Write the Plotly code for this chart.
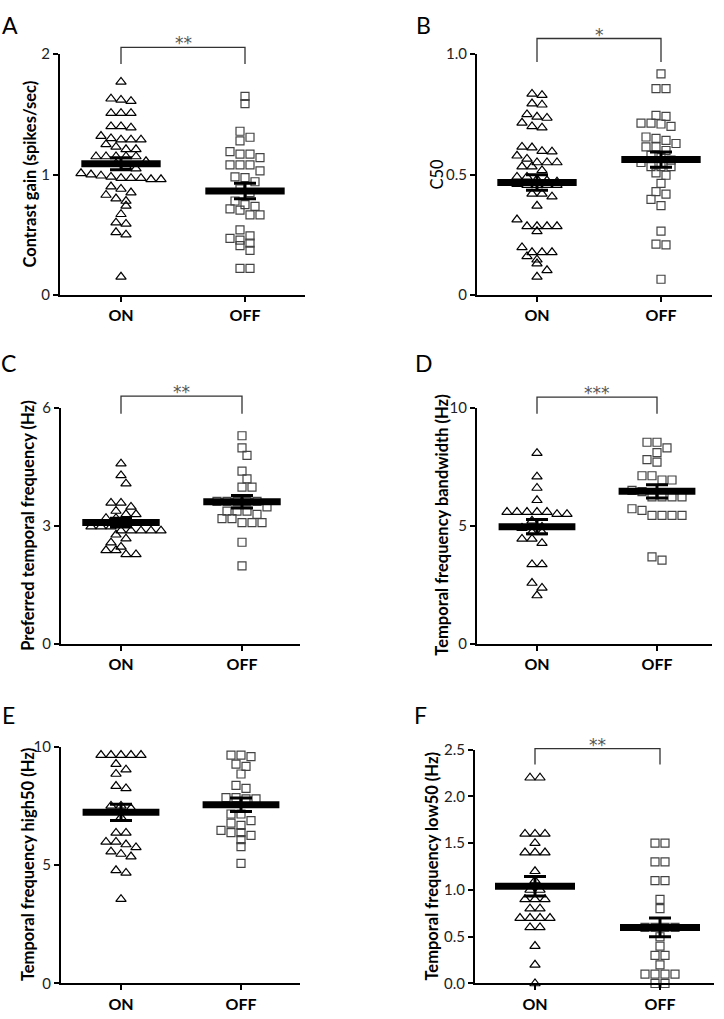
import numpy as np
import plotly.graph_objects as go

W, H = 724, 1019
FONT = "Lato"

groups = ["ON", "OFF"]

# ---------------- data ----------------
a_on = [1.77, 1.62, 1.61, 1.63, 1.51, 1.51, 1.51, 1.40, 1.40, 1.39, 1.32, 1.30, 1.29, 1.29, 1.29,
        1.25, 1.23, 1.21, 1.21, 1.15, 1.15, 1.15, 1.15, 1.15, 1.11, 1.09, 1.07, 1.05,
        1.00, 0.98, 0.97, 0.96, 0.96, 0.97, 0.97, 0.99, 1.01, 0.90, 0.88, 0.83, 0.85, 0.80,
        0.78, 0.74, 0.67, 0.60, 0.59, 0.52, 0.50, 0.15]
a_off = [1.65, 1.59, 1.36, 1.31, 1.28, 1.19, 1.17, 1.17, 1.14, 1.08, 1.08, 1.08, 1.03, 0.98,
         0.975, 0.94, 0.88, 0.85, 0.78, 0.75, 0.735, 0.715, 0.705, 0.665, 0.665, 0.54, 0.49,
         0.47, 0.455, 0.43, 0.41, 0.37, 0.22, 0.22]
a_mean = [1.09, 0.863]
a_sem = [0.05, 0.064]

b_on = [0.835, 0.83, 0.79, 0.795, 0.735, 0.74, 0.75, 0.715, 0.70, 0.695, 0.612, 0.615, 0.595,
        0.597, 0.578, 0.565, 0.55, 0.55, 0.55, 0.533, 0.533, 0.517, 0.49, 0.49, 0.48, 0.475,
        0.47, 0.46, 0.456, 0.456, 0.456, 0.456, 0.42, 0.42, 0.408, 0.37, 0.313, 0.285, 0.285,
        0.285, 0.285, 0.264, 0.197, 0.177, 0.177, 0.177, 0.16, 0.146, 0.13, 0.102, 0.075]
b_off = [0.918, 0.857, 0.857, 0.742, 0.746, 0.714, 0.71, 0.714, 0.70, 0.65, 0.642, 0.656,
         0.629, 0.615, 0.615, 0.60, 0.58, 0.57, 0.56, 0.55, 0.533, 0.533, 0.533, 0.507, 0.497,
         0.463, 0.429, 0.419, 0.397, 0.371, 0.265, 0.211, 0.208, 0.065]
b_mean = [0.467, 0.562]
b_sem = [0.032, 0.032]

c_on = [4.58, 4.28, 4.07, 3.58, 3.58, 3.48, 3.375, 3.29, 3.29, 3.19, 3.19, 3.10, 2.975, 2.975,
        2.975, 2.875, 2.875, 2.875, 2.875, 2.875, 2.77, 2.67, 2.57, 2.46, 2.375, 2.375, 2.27, 2.27]
c_off = [5.29, 4.98, 4.79, 4.39, 4.19, 3.98, 3.98, 3.62, 3.62, 3.62, 3.62, 3.62, 3.48, 3.37,
         3.37, 3.37, 3.29, 3.18, 3.18, 3.08, 3.08, 3.08, 2.58, 1.98]
c_mean = [3.08, 3.61]
c_sem = [0.11, 0.16]

d_on = [8.08, 7.08, 6.6, 6.08, 5.58, 5.58, 5.58, 5.58, 5.58, 5.49, 5.49, 5.21, 4.95, 4.9, 4.72,
        4.72, 4.44, 4.44, 4.26, 3.36, 3.36, 2.57, 2.36, 2.04]
d_off = [8.54, 8.54, 8.3, 8.1, 7.8, 7.7, 7.12, 7.12, 6.94, 6.94, 6.5, 6.45, 6.22, 6.22, 6.22,
         6.22, 5.72, 5.65, 5.44, 5.44, 5.44, 5.44, 3.68, 3.54]
d_mean = [4.96, 6.46]
d_sem = [0.30, 0.28]

e_on = [9.65, 9.65, 9.65, 9.65, 9.65, 9.27, 9.03, 8.85, 8.34, 8.24, 7.5, 7.5, 7.4, 7.02, 6.36,
        6.36, 5.98, 5.98, 5.87, 5.75, 5.57, 5.47, 5.36, 4.78, 4.67, 3.56]
e_off = [9.65, 9.65, 9.58, 9.27, 9.17, 8.85, 8.37, 8.24, 7.85, 7.85, 7.8, 7.8, 7.16, 7.16, 6.88,
         6.77, 6.68, 6.47, 6.37, 6.37, 6.26, 6.08, 5.78, 5.07]
e_mean = [7.23, 7.55]
e_sem = [0.34, 0.28]

f_on = [2.2, 2.2, 1.6, 1.6, 1.6, 1.5, 1.4, 1.4, 1.4, 1.2, 1.1, 1.0, 1.0, 0.9, 0.9, 0.9, 0.8,
        0.8, 0.7, 0.7, 0.7, 0.7, 0.6, 0.6, 0.4, 0.2, 0.0]
f_off = [1.5, 1.5, 1.3, 1.3, 1.1, 1.1, 0.9, 0.8, 0.6, 0.6, 0.6, 0.6, 0.5, 0.4, 0.3, 0.3, 0.2,
         0.1, 0.1, 0.1, 0.1, 0.0, 0.0]
f_mean = [1.04, 0.60]
f_sem = [0.105, 0.10]

titles = ["<b>Contrast gain (spikes/sec)</b>", "C50", "<b>Preferred temporal frequency (Hz)</b>",
          "<b>Temporal frequency bandwidth (Hz)</b>", "<b>Temporal frequency high50 (Hz)</b>",
          "<b>Temporal frequency low50 (Hz)</b>"]
letters = ["A", "B", "C", "D", "E", "F"]
significance = ["**", "*", "**", "***", "", "**"]
y_max = [2, 1.0, 6, 10, 10, 2.5]
y_tickvals = [[0, 1, 2], [0, 0.5, 1.0], [0, 3, 6], [0, 5, 10], [0, 5, 10],
              [0, 0.5, 1.0, 1.5, 2.0, 2.5]]
y_ticktext = [["0", "1", "2"], ["0", "0.5", "1.0"], ["0", "3", "6"], ["0", "5", "10"],
              ["0", "5", "10"], ["0.0", "0.5", "1.0", "1.5", "2.0", "2.5"]]

# ---------------- layout geometry (pixels) ----------------
geo = [
    dict(left=60, right=305, top=45, bot=290, on=121, off=245, tx=30, lx=10, ly=15, bt=7, bl=10),
    dict(left=477, right=712, top=45, bot=290, on=537, off=661, tx=437, lx=423, ly=15, bt=16, bl=8),
    dict(left=61, right=300, top=405, bot=645, on=121, off=242, tx=28, lx=8, ly=359, bt=12, bl=6),
    dict(left=477, right=712, top=405, bot=645, on=537, off=657, tx=442, lx=424, ly=359, bt=11, bl=6),
    dict(left=61, right=300, top=750, bot=991, on=121, off=241, tx=28, lx=8, ly=718, bt=0, bl=0),
    dict(left=475, right=714, top=753, bot=991, on=535, off=660, tx=432, lx=420, ly=718, bt=1, bl=15),
]

datasets = [(a_on, a_off, a_mean, a_sem), (b_on, b_off, b_mean, b_sem),
            (c_on, c_off, c_mean, c_sem), (d_on, d_off, d_mean, d_sem),
            (e_on, e_off, e_mean, e_sem), (f_on, f_off, f_mean, f_sem)]


def px_x(p):
    return p / W


def px_y(p):
    return 1 - p / H


def swarm_offsets(vals, ppu_y, ppu_x, step=10.0, row_h=7.0, min_d=9.0):
    vals = np.asarray(vals, float)
    order = np.argsort(-vals, kind="stable")
    rows = []
    for i in order:
        if rows and (vals[rows[-1][0]] - vals[i]) * ppu_y <= row_h:
            rows[-1].append(i)
        else:
            rows.append([i])
    off = np.zeros(len(vals))
    placed = []
    for r in rows:
        n = len(r)
        base = [(k - (n - 1) / 2) * step for k in range(n)]
        best = None
        for shift in (0, step / 2, -step / 2):
            xs = [b + shift for b in base]
            coll = 0
            for xi, i in zip(xs, r):
                for xj, j in placed:
                    dy = (vals[i] - vals[j]) * ppu_y
                    if (xi - xj) ** 2 + dy ** 2 < min_d ** 2:
                        coll += 1
            if best is None or coll < best[0]:
                best = (coll, xs)
            if coll == 0:
                break
        for xi, i in zip(best[1], r):
            off[i] = xi
            placed.append((xi, i))
    return off / ppu_x


fig = go.Figure()
layout = dict(width=W, height=H, margin=dict(l=0, r=0, t=0, b=0),
              paper_bgcolor="white", plot_bgcolor="white", showlegend=False,
              font=dict(family=FONT, color="black"))
annotations = []
shapes = []

for k in range(6):
    g = geo[k]
    on_v, off_v, mean, sem = datasets[k]
    sfx = "" if k == 0 else str(k + 1)
    xa, ya = "x" + sfx, "y" + sfx
    ppu_x = g["off"] - g["on"]
    ppu_y = (g["bot"] - g["top"]) / y_max[k]
    xr = [(g["left"] - g["on"]) / ppu_x, (g["right"] - g["on"]) / ppu_x]

    layout["xaxis" + sfx] = dict(domain=[px_x(g["left"]), px_x(g["right"])], range=xr,
                                 anchor=ya, showgrid=False, zeroline=False, showline=True,
                                 linecolor="black", linewidth=2, ticks="outside", ticklen=5,
                                 tickwidth=2, tickcolor="black", tickvals=[0, 1],
                                 ticktext=["<b>%s</b>" % s for s in groups],
                                 tickfont=dict(family=FONT, size=16, color="black"))
    layout["yaxis" + sfx] = dict(domain=[px_y(g["bot"]), px_y(g["top"])], range=[0, y_max[k]],
                                 anchor=xa, showgrid=False, zeroline=False, showline=True,
                                 linecolor="black", linewidth=2, ticks="outside", ticklen=5,
                                 tickwidth=2, tickcolor="black", tickvals=y_tickvals[k],
                                 ticktext=y_ticktext[k],
                                 tickfont=dict(family=FONT, size=15, color="#222"))

    for gi, (vals, sym, col, size) in enumerate([(on_v, "triangle-up-open", "black", 9),
                                                  (off_v, "square-open", "#444", 8)]):
        offs = swarm_offsets(vals, ppu_y, ppu_x)
        fig.add_trace(go.Scatter(x=gi + offs, y=vals, mode="markers", xaxis=xa, yaxis=ya,
                                 cliponaxis=False, hoverinfo="y",
                                 marker=dict(symbol=sym, size=size, color=col,
                                             line=dict(width=1.2, color=col))))
    for gi in range(2):
        fig.add_trace(go.Scatter(x=[gi - 0.32, gi + 0.32], y=[mean[gi], mean[gi]], mode="lines",
                                 xaxis=xa, yaxis=ya, line=dict(color="black", width=7),
                                 hoverinfo="skip"))
        fig.add_trace(go.Scatter(x=[gi], y=[mean[gi]], mode="markers", xaxis=xa, yaxis=ya,
                                 marker=dict(size=1, opacity=0), cliponaxis=False,
                                 error_y=dict(type="data", array=[sem[gi]], color="black",
                                              thickness=3, width=11),
                                 hoverinfo="skip"))

    # axis title
    annotations.append(dict(text=titles[k], x=px_x(g["tx"]), y=px_y((g["top"] + g["bot"]) / 2),
                            xref="paper", yref="paper", textangle=-90, showarrow=False,
                            xanchor="center", yanchor="middle",
                            font=dict(family=FONT, size=16.5, color="black")))
    # panel letter
    annotations.append(dict(text=letters[k], x=px_x(g["lx"]), y=px_y(g["ly"]), xref="paper",
                            yref="paper", showarrow=False, xanchor="center", yanchor="middle",
                            font=dict(family=FONT, size=23, color="black")))
    # significance bracket
    if significance[k]:
        yt = px_y(g["top"] - g["bt"])
        yl = px_y(g["top"] + g["bl"])
        x0, x1 = px_x(g["on"]), px_x(g["off"])
        shapes.append(dict(type="path", xref="paper", yref="paper",
                           path="M %f,%f L %f,%f L %f,%f L %f,%f" % (x0, yl, x0, yt, x1, yt, x1, yl),
                           line=dict(color="#333", width=1.3)))
        annotations.append(dict(text=significance[k], x=(x0 + x1) / 2,
                                y=px_y(g["top"] - g["bt"] - 4), xref="paper", yref="paper",
                                showarrow=False, xanchor="center", yanchor="middle",
                                font=dict(family="DejaVu Sans", size=17, color="#555")))

layout["annotations"] = annotations
layout["shapes"] = shapes
fig.update_layout(**layout)
fig.write_html("out.html", config={"displayModeBar": False},
               post_script="document.body.style.margin='0px';")
